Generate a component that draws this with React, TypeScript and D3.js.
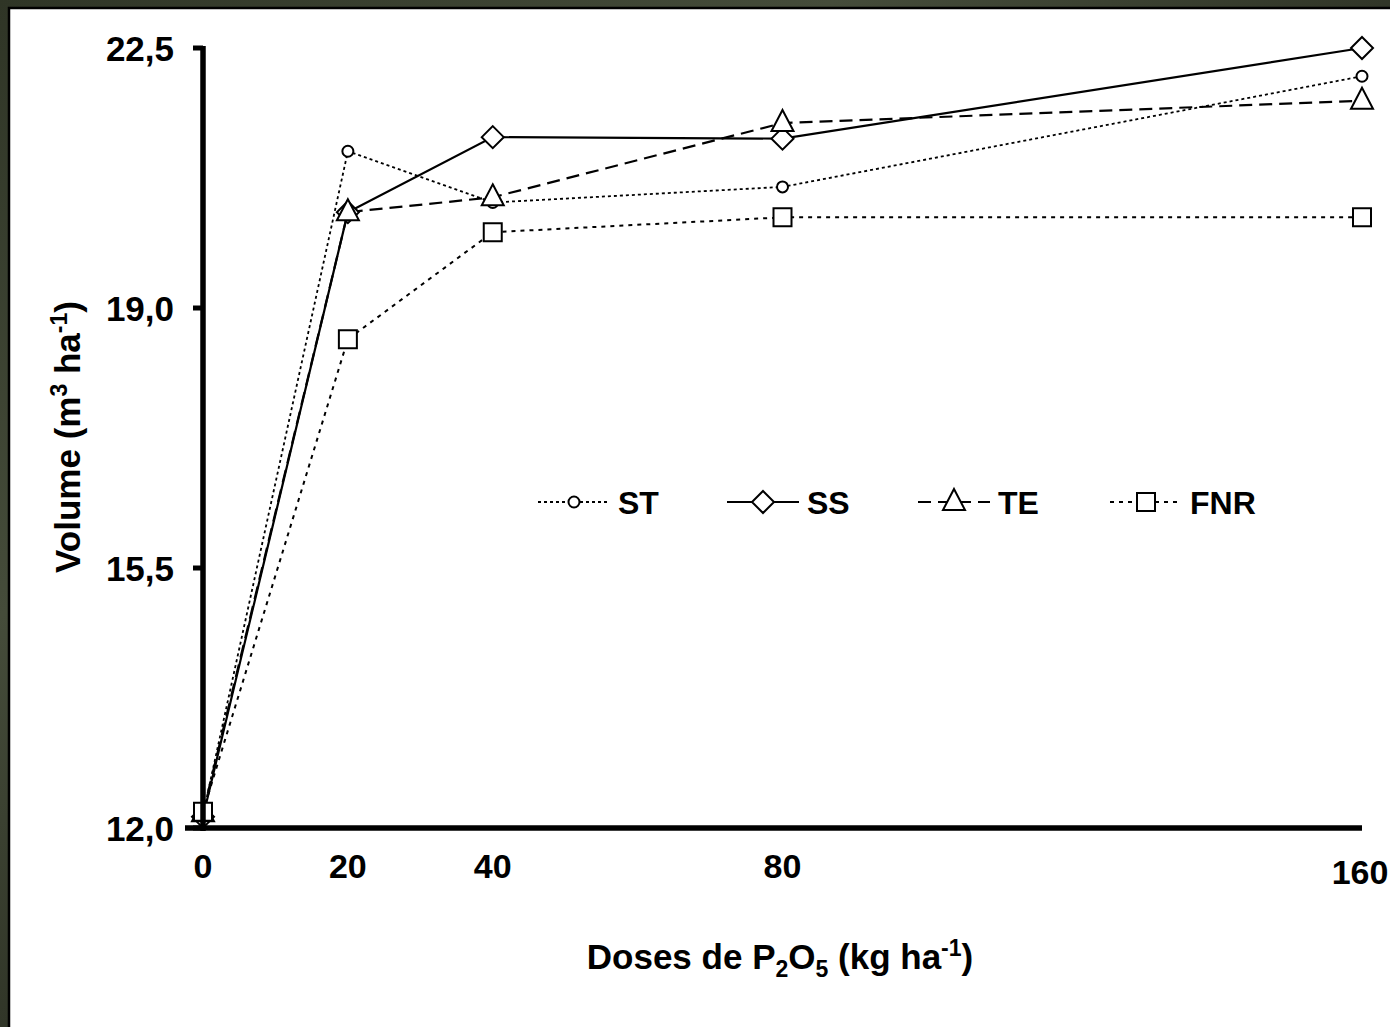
import React from "react";
import * as d3 from "d3";

const doses = [0, 20, 40, 80, 160];
const xTickLabels = ["0", "20", "40", "80", "160"];
const yTicks = [12.0, 15.5, 19.0, 22.5];
const yTickLabels = ["12,0", "15,5", "19,0", "22,5"];

const stValues = [12.18, 21.11, 20.42, 20.63, 22.12];
const ssValues = [12.15, 20.29, 21.3, 21.28, 22.5];
const teValues = [12.2, 20.29, 20.49, 21.49, 21.79];
const fnrValues = [12.22, 18.58, 20.02, 20.22, 20.22];

const seriesNames = ["ST", "SS", "TE", "FNR"];

type Series = {
  name: string;
  values: number[];
  dash: string;
  width: number;
  marker: "circle" | "diamond" | "triangle" | "square";
};

const series: Series[] = [
  { name: seriesNames[0], values: stValues, dash: "3,3", width: 1.8, marker: "circle" },
  { name: seriesNames[1], values: ssValues, dash: "", width: 2.2, marker: "diamond" },
  { name: seriesNames[2], values: teValues, dash: "13,7", width: 2.2, marker: "triangle" },
  { name: seriesNames[3], values: fnrValues, dash: "4,5", width: 2, marker: "square" },
];

const W = 1390;
const H = 1027;
const FONT = "'Liberation Sans', Arial, sans-serif";

const x = d3.scaleLinear().domain([0, 160]).range([203, 1362]);
const y = d3.scaleLinear().domain([12, 22.5]).range([828, 48]);

function markerPath(kind: Series["marker"]): string {
  switch (kind) {
    case "circle":
      return d3.symbol(d3.symbolCircle, Math.PI * 5.5 * 5.5)()!;
    case "diamond":
      return "M0,-11L11,0L0,11L-11,0Z";
    case "triangle":
      return "M0,-13L11,8L-11,8Z";
    case "square":
      return "M-9,-9H9V9H-9Z";
  }
}

function Marker({ kind, cx, cy }: { kind: Series["marker"]; cx: number; cy: number }) {
  return (
    <path
      d={markerPath(kind)}
      transform={`translate(${cx},${cy})`}
      fill="#fff"
      stroke="#000"
      strokeWidth={2}
    />
  );
}

export default function App() {
  const line = d3
    .line<number>()
    .x((_, i) => x(doses[i]))
    .y((v) => y(v));

  const legendX = [538, 727, 918, 1110];
  const legendY = 502;

  return (
    <svg
      width={W}
      height={H}
      style={{ position: "absolute", left: 0, top: 0, display: "block" }}
      fontFamily={FONT}
    >
      <defs>
        <linearGradient id="bgTex" x1="0" y1="0" x2="1" y2="1">
          <stop offset="0" stopColor="#2f3526" />
          <stop offset="0.3" stopColor="#454c3a" />
          <stop offset="0.6" stopColor="#272b1f" />
          <stop offset="1" stopColor="#3a4030" />
        </linearGradient>
      </defs>
      <rect x={0} y={0} width={W} height={H} fill="url(#bgTex)" />
      <rect x={9} y={8} width={W} height={H} fill="#fff" stroke="#000" strokeWidth={2.5} />

      {/* series lines */}
      {series.map((s) => (
        <path
          key={s.name + "-line"}
          d={line(s.values)!}
          fill="none"
          stroke="#000"
          strokeWidth={s.width}
          strokeDasharray={s.dash || undefined}
        />
      ))}

      {/* markers */}
      {series.map((s) =>
        s.values.map((v, i) => (
          <Marker key={s.name + i} kind={s.marker} cx={x(doses[i])} cy={y(v)} />
        ))
      )}

      {/* axes */}
      <line x1={x(0)} x2={x(0)} y1={y(22.5) - 2} y2={y(12) + 3} stroke="#000" strokeWidth={5.5} />
      <line x1={185} x2={x(160)} y1={y(12)} y2={y(12)} stroke="#000" strokeWidth={5.5} />
      {yTicks.map((t) => (
        <line key={"yt" + t} x1={193} x2={x(0)} y1={y(t)} y2={y(t)} stroke="#000" strokeWidth={5} />
      ))}

      {yTicks.map((t, i) => (
        <text
          key={"yl" + t}
          x={174}
          y={y(t)}
          dy="0.36em"
          textAnchor="end"
          fontSize={35}
          fontWeight="bold"
        >
          {yTickLabels[i]}
        </text>
      ))}
      {doses.map((d, i) => (
        <text
          key={"xl" + d}
          x={i === 4 ? x(d) - 2 : x(d)}
          y={i === 4 ? 884 : 878}
          textAnchor="middle"
          fontSize={34}
          fontWeight="bold"
        >
          {xTickLabels[i]}
        </text>
      ))}

      {/* axis titles */}
      <text
        transform="translate(80,437) rotate(-90)"
        textAnchor="middle"
        fontSize={35}
        fontWeight="bold"
      >
        Volume (m
        <tspan fontSize={23} dy={-13}>3</tspan>
        <tspan dy={13}> ha</tspan>
        <tspan fontSize={23} dy={-13}>-1</tspan>
        <tspan dy={13}>)</tspan>
      </text>
      <text x={780} y={969} textAnchor="middle" fontSize={35} fontWeight="bold">
        Doses de P
        <tspan fontSize={23} dy={8}>2</tspan>
        <tspan dy={-8}>O</tspan>
        <tspan fontSize={23} dy={8}>5</tspan>
        <tspan dy={-8}> (kg ha</tspan>
        <tspan fontSize={23} dy={-13}>-1</tspan>
        <tspan dy={13}>)</tspan>
      </text>

      {/* legend */}
      {series.map((s, i) => {
        const lx = legendX[i];
        return (
          <g key={s.name + "-legend"}>
            <line
              x1={lx}
              x2={lx + 72}
              y1={legendY}
              y2={legendY}
              stroke="#000"
              strokeWidth={s.width}
              strokeDasharray={s.dash || undefined}
            />
            <Marker kind={s.marker} cx={lx + 36} cy={legendY} />
            <text x={lx + 80} y={legendY} dy="0.36em" fontSize={32} fontWeight="bold">
              {s.name}
            </text>
          </g>
        );
      })}
    </svg>
  );
}
